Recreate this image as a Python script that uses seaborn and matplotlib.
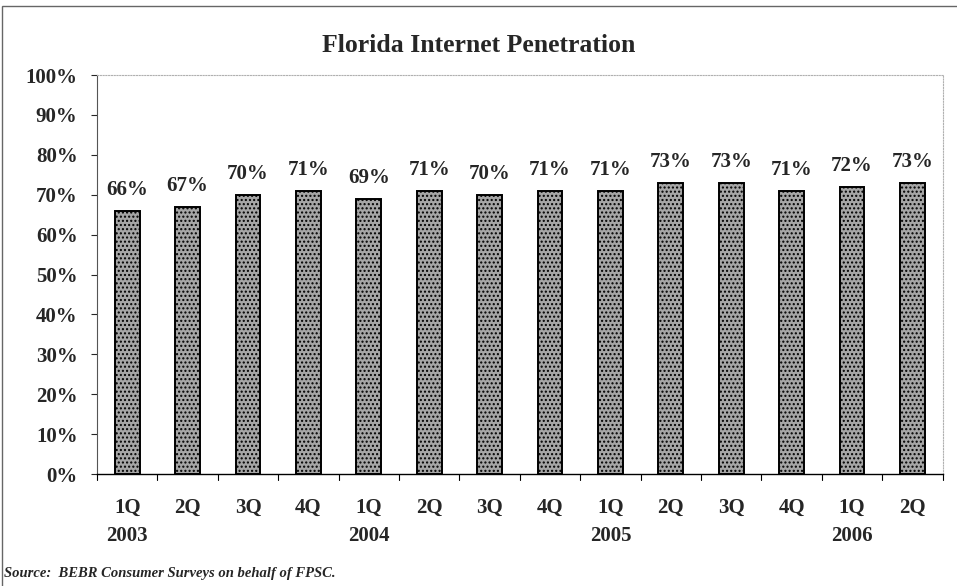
import numpy as np
import pandas as pd
import matplotlib
matplotlib.use("Agg")
import matplotlib.pyplot as plt
import seaborn as sns

quarters = ["1Q", "2Q", "3Q", "4Q", "1Q", "2Q", "3Q", "4Q", "1Q", "2Q", "3Q", "4Q", "1Q", "2Q"]
years = ["2003", "", "", "", "2004", "", "", "", "2005", "", "", "", "2006", ""]
penetration = [66, 67, 70, 71, 69, 71, 70, 71, 71, 73, 73, 71, 72, 73]

labels = [q + "\n" + y if y else q for q, y in zip(quarters, years)]
df = pd.DataFrame({"period": [f"p{i}" for i in range(len(labels))], "pct": penetration})

sns.set_style("white")
plt.rcParams["font.family"] = ["Liberation Serif", "DejaVu Serif"]
plt.rcParams["hatch.color"] = "#404040"
plt.rcParams["hatch.linewidth"] = 1.0

fig = plt.figure(figsize=(9.57, 5.86), dpi=100)
ax = fig.add_axes([0.1014, 0.191, 0.8836, 0.681])

sns.barplot(data=df, x="period", y="pct", color="#a6a6a6", width=0.41,
            edgecolor="black", linewidth=1.4, saturation=1, ax=ax)
for p in ax.patches:
    p.set_hatch("....")
    p.set_edgecolor("black")

# value labels above the bars
for i, v in enumerate(penetration):
    ax.text(i, v + 2.6, f"{v}%", ha="center", va="bottom", fontsize=15, fontweight="bold")

ax.set_ylim(0, 100)
ax.set_xlim(-0.5, len(labels) - 0.5)
ax.set_yticks(range(0, 101, 10))
ax.set_yticklabels([f"{t}%" for t in range(0, 101, 10)], fontsize=15, fontweight="bold")
ax.set_xticks(np.arange(len(labels)))
ax.set_xticklabels(labels, fontsize=15, fontweight="bold", linespacing=1.55)
ax.tick_params(axis="x", length=0, pad=17)
ax.tick_params(axis="y", length=4, width=0.8, direction="out", left=True, pad=10)
# tick marks between categories
for b in np.arange(-0.5, len(labels), 1.0):
    ax.plot([b, b], [0, -1.4], color="black", lw=0.8, clip_on=False)
ax.set_xlabel("")
ax.set_ylabel("")

for s in ["top", "right"]:
    ax.spines[s].set_color("#b0b0b0")
    ax.spines[s].set_linestyle((0, (1, 1.5)))
    ax.spines[s].set_linewidth(0.8)
ax.spines["left"].set_color("#555555")
ax.spines["left"].set_linewidth(0.8)
ax.spines["bottom"].set_color("black")
ax.spines["bottom"].set_linewidth(1.0)

fig.text(0.5, 0.922, "Florida Internet Penetration", ha="center", va="center",
         fontsize=18.5, fontweight="bold")
fig.text(0.004, 0.022, "Source:  BEBR Consumer Surveys on behalf of FPSC.",
         ha="left", va="center", fontsize=10.5, fontweight="bold", style="italic")

border = plt.Rectangle((0.002, -0.01), 1.2, 1.0, transform=fig.transFigure, fill=False,
                       edgecolor="#666666", linewidth=1.0)
fig.patches.append(border)

fig.savefig("out.png", dpi=100)
